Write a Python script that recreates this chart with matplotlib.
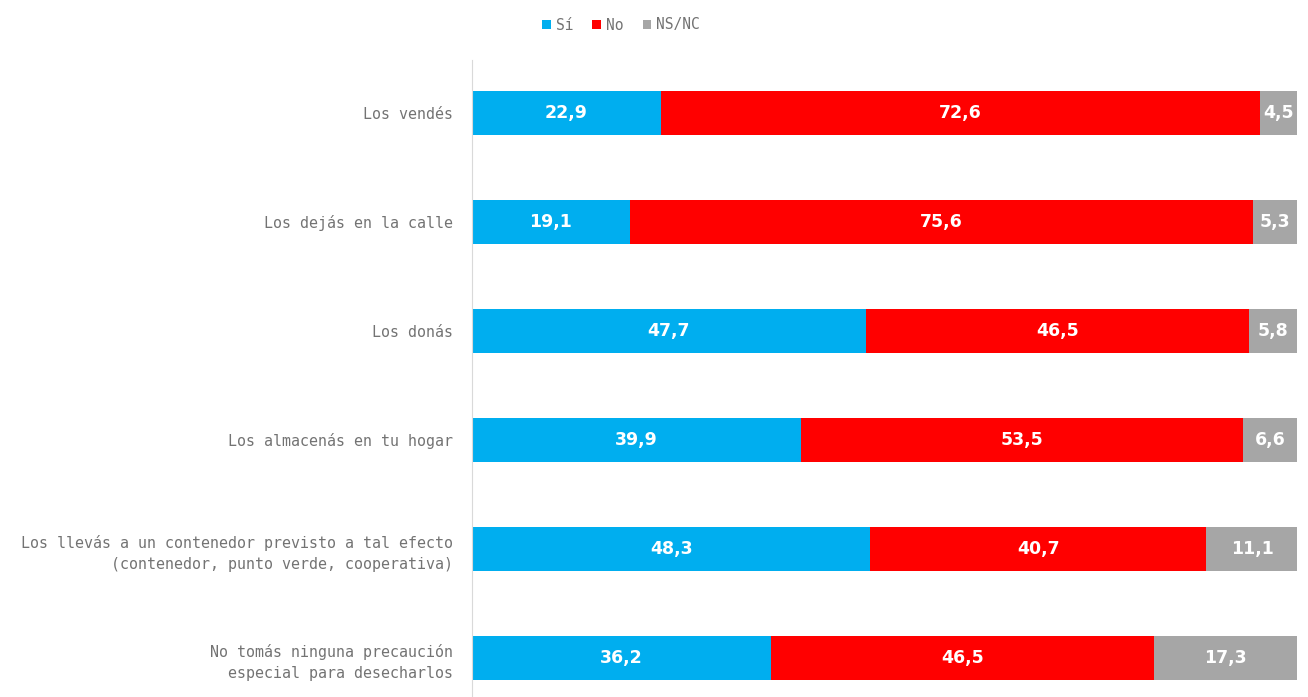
import matplotlib.pyplot as plt
import numpy as np

# Categories and values (percent)
categories = [
    "Los vendés",
    "Los dejás en la calle",
    "Los donás",
    "Los almacenás en tu hogar",
    "Los llevás a un contenedor previsto a tal efecto\n(contenedor, punto verde, cooperativa)",
    "No tomás ninguna precaución\nespecial para desecharlos",
]
si = [22.9, 19.1, 47.7, 39.9, 48.3, 36.2]
no = [72.6, 75.6, 46.5, 53.5, 40.7, 46.5]
nsnc = [4.5, 5.3, 5.8, 6.6, 11.1, 17.3]

series_names = ["Sí", "No", "NS/NC"]
colors = ["#00AEEF", "#FF0000", "#A6A6A6"]

plt.rcParams['font.family'] = ['DejaVu Sans']

fig = plt.figure(figsize=(13.08, 6.97), dpi=100)
ax = fig.add_axes([472 / 1308, 0, (1297 - 472) / 1308, (697 - 60) / 697])

y = np.arange(len(categories))
left = np.zeros(len(categories))
for name, vals, col in zip(series_names, [si, no, nsnc], colors):
    vals = np.array(vals)
    ax.barh(y, vals, left=left, height=0.4, color=col, label=name)
    for yi, l, v in zip(y, left, vals):
        ax.text(l + v / 2, yi, f"{v:.1f}".replace(".", ","), ha='center', va='center',
                color='white', fontsize=12.5, fontweight='bold')
    left += vals

ax.set_xlim(0, 100)
ax.set_ylim(5.36, -0.486)
ax.set_yticks(y)
ax.set_yticklabels(categories, fontsize=10.8, color='#737373', ha='right',
                   linespacing=1.55, family='DejaVu Sans Mono')
ax.tick_params(axis='y', length=0, pad=14)
ax.set_xticks([])
for s in ['top', 'right', 'bottom']:
    ax.spines[s].set_visible(False)
ax.spines['left'].set_color('#D9D9D9')

fig.legend(loc='center', bbox_to_anchor=(621 / 1308, 1 - 25 / 697), ncol=3, frameon=False,
           labelcolor='#737373', handlelength=0.6, handleheight=0.6,
           handletextpad=0.35, columnspacing=1.3, prop={'family': 'DejaVu Sans Mono', 'size': 10.5})

fig.savefig('out.png', dpi=100)
